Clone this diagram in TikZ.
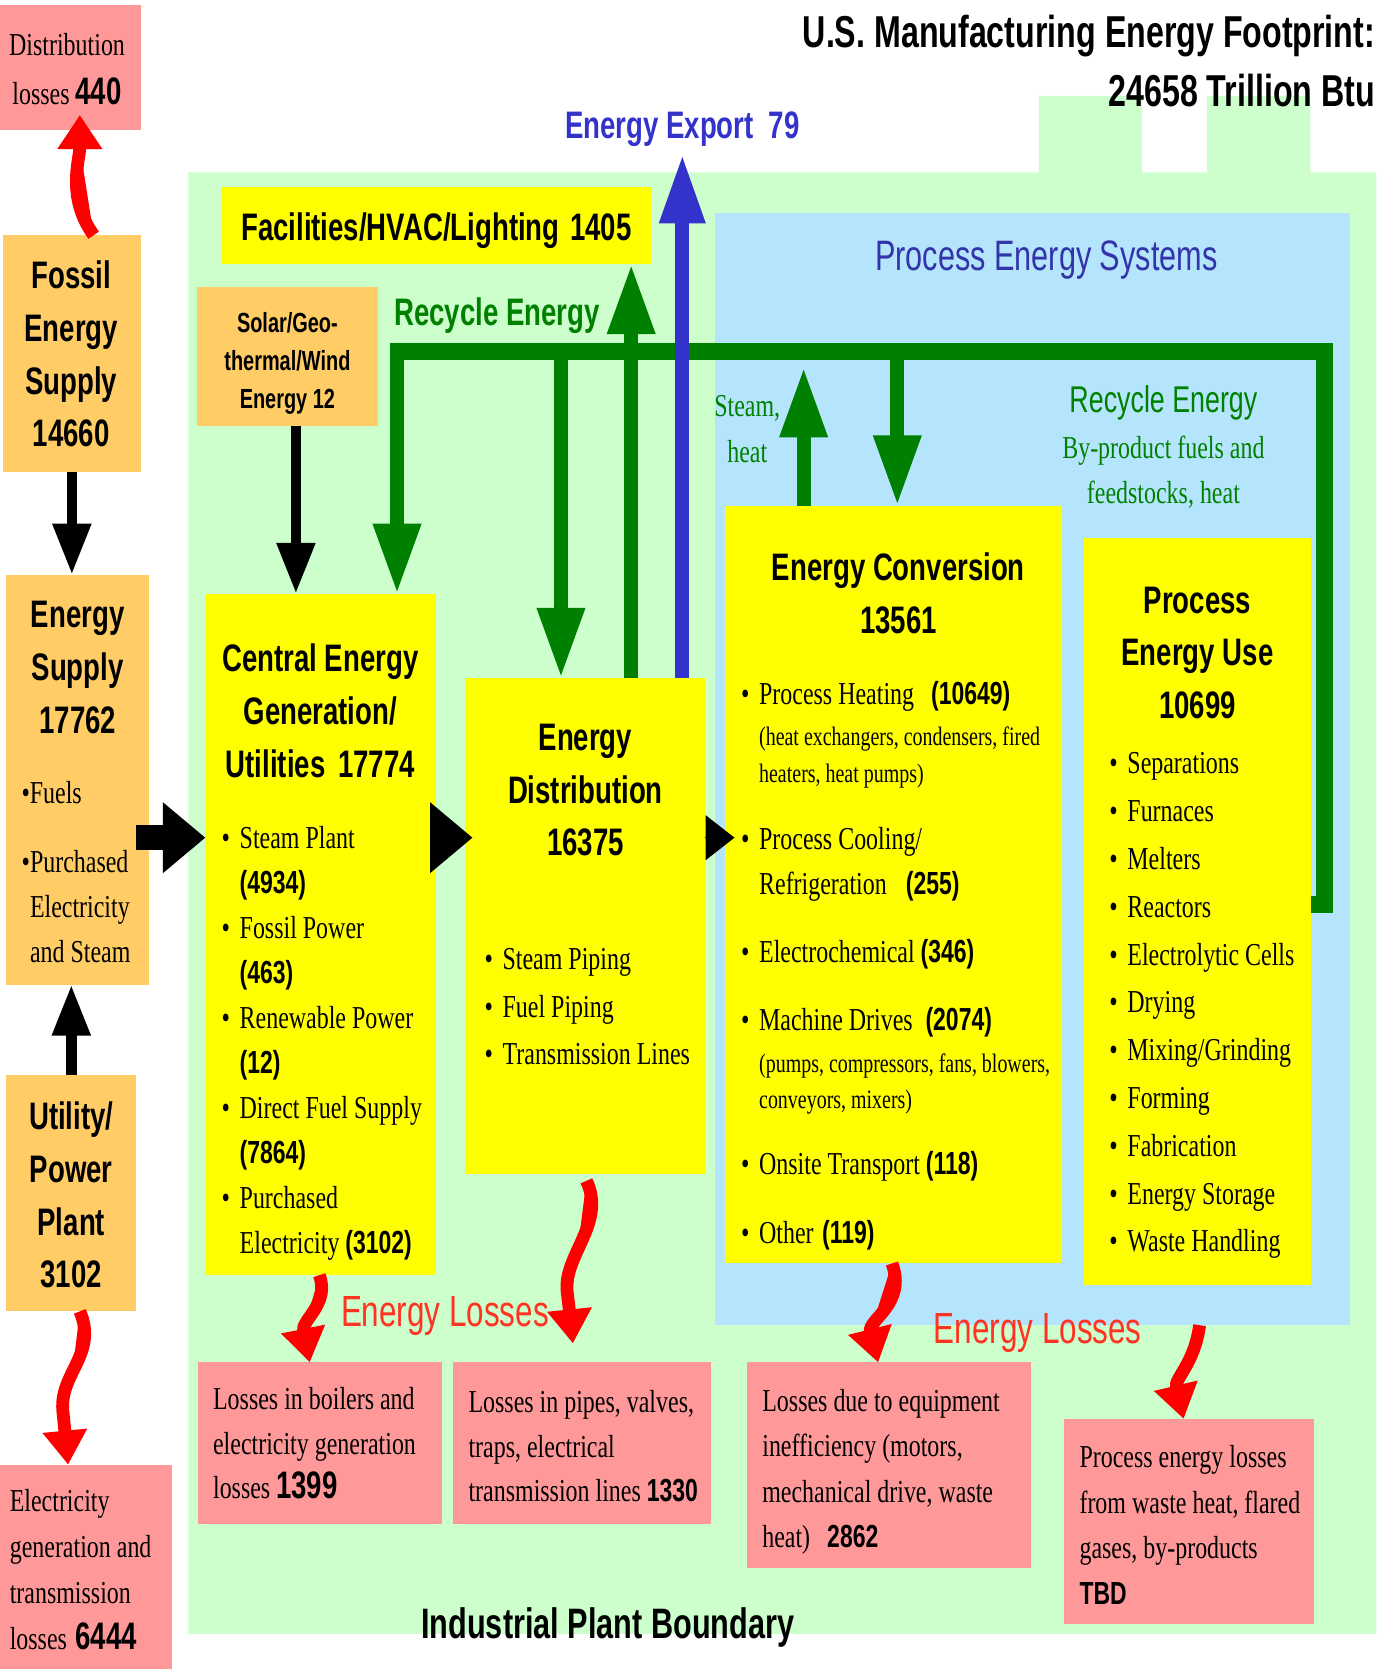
\documentclass[tikz,border=0pt]{standalone}
\usepackage{fontspec}
\setmainfont[FakeStretch=0.75]{Liberation Serif}
\newfontfamily\narrowsans[FakeStretch=0.72]{Liberation Sans}
\usetikzlibrary{arrows.meta}
\definecolor{plantgreen}{RGB}{204,255,204}
\definecolor{procblue}{RGB}{181,229,252}
\definecolor{boxyellow}{RGB}{255,255,0}
\definecolor{supplyorange}{RGB}{255,204,102}
\definecolor{losspink}{RGB}{255,153,153}
\definecolor{mgreen}{RGB}{0,128,0}
\definecolor{mblue}{RGB}{51,51,204}
\definecolor{mpurple}{RGB}{51,51,170}
\definecolor{mred}{RGB}{255,0,0}
\definecolor{lossred}{RGB}{255,51,34}
\newcommand{\headfont}{\narrowsans\bfseries\fontsize{36}{49.5}\selectfont}
\newcommand{\itemfont}{\fontsize{30}{42.3}\selectfont}
\newcommand{\smallitemfont}{\fontsize{25}{34}\selectfont}
\newcommand{\val}[1]{{\narrowsans\bfseries #1}}
\newcommand{\bigval}[1]{{\narrowsans\bfseries\fontsize{36}{42}\selectfont #1}}
\newcommand{\blt}{\llap{\textbullet\hspace{9pt}}}
\tikzset{
  box/.style = {inner sep = 0, outer sep = 0, anchor = north west},
  lines/.style = {inner sep = 0, align = left, anchor = north west, yshift = -9pt, execute at begin node = \strut},
  heading/.style = {lines, align = center, anchor = north, font = \headfont},
  label/.style = {inner sep = 0, anchor = base},
  blkarrow/.style = {line width = 10pt, -{Triangle[width = 34pt, length = 48pt]}},
  fatarrow/.style = {line width = 24pt, -{Triangle[width = 64pt, length = 40pt]}},
  grnline/.style = {draw = mgreen, line width = 16pt},
  grnarrow/.style = {draw = mgreen, fill = mgreen, line width = 13pt, -{Triangle[width = 42pt, length = 66pt]}},
  bluarrow/.style = {draw = mblue, fill = mblue, line width = 13pt, -{Triangle[width = 40pt, length = 65pt]}},
  lossarrow/.style = {draw = mred, fill = mred, line width = 12pt, -{Triangle[width = 40pt, length = 32pt]}}
}

\begin{document}
\begin{tikzpicture}[x = 1pt, y = -1pt]
  \useasboundingbox (0, 0) rectangle (1293, 1568);

  % plant boundary and process systems
  \fill[plantgreen] (177, 162) -- (976, 162) -- (976, 90) -- (1073, 90) -- (1073, 162)
    -- (1134, 162) -- (1134, 90) -- (1231, 90) -- (1231, 162) -- (1293, 162)
    -- (1293, 1535) -- (177, 1535) -- cycle;
  \node[box, fill = procblue, minimum width = 596, minimum height = 1045] (pes) at (672, 200) {};

  % boxes
  \node[box, fill = losspink, minimum width = 132, minimum height = 117] (distloss) at (0, 5) {};
  \node[box, fill = supplyorange, minimum width = 129, minimum height = 222] (fossil) at (3, 221) {};
  \node[box, fill = supplyorange, minimum width = 134, minimum height = 385] (supply) at (6, 540) {};
  \node[box, fill = supplyorange, minimum width = 122, minimum height = 222] (utility) at (6, 1010) {};
  \node[box, fill = losspink, minimum width = 162, minimum height = 192] (elecloss) at (0, 1376) {};
  \node[box, fill = boxyellow, minimum width = 404, minimum height = 72] (fac) at (208, 176) {};
  \node[box, fill = supplyorange, minimum width = 170, minimum height = 130] (solar) at (185, 270) {};
  \node[box, fill = boxyellow, minimum width = 217, minimum height = 640] (central) at (193, 558) {};
  \node[box, fill = boxyellow, minimum width = 225, minimum height = 466] (dist) at (437, 637) {};
  \node[box, fill = boxyellow, minimum width = 317, minimum height = 712] (conv) at (681, 475) {};
  \node[box, fill = boxyellow, minimum width = 214, minimum height = 702] (use) at (1018, 505) {};
  \node[box, fill = losspink, minimum width = 229, minimum height = 152] (boilloss) at (186, 1280) {};
  \node[box, fill = losspink, minimum width = 242, minimum height = 152] (pipeloss) at (426, 1280) {};
  \node[box, fill = losspink, minimum width = 267, minimum height = 193] (equiploss) at (702, 1280) {};
  \node[box, fill = losspink, minimum width = 234, minimum height = 193] (procloss) at (1000, 1333) {};

  % titles
  \node[label, anchor = base east, font = \narrowsans\bfseries\fontsize{42}{48}\selectfont] (title) at (1292, 45) {U.S. Manufacturing Energy Footprint:};
  \node[label, anchor = base east, font = \narrowsans\bfseries\fontsize{42}{48}\selectfont] (total) at (1292, 100) {24658 Trillion Btu};
  \node[label, font = \narrowsans\bfseries\fontsize{36}{42}\selectfont, text = mblue] (export) at (641, 130) {Energy Export\hspace{14pt}79};
  \node[label, font = \narrowsans\fontsize{40}{46}\selectfont, text = mpurple] (pestxt) at (983, 254) {Process Energy Systems};
  \node[label, font = \narrowsans\bfseries\fontsize{40}{46}\selectfont] (boundary) at (571, 1539) {Industrial Plant Boundary};
  \node[label, font = \narrowsans\bfseries\fontsize{36}{42}\selectfont, text = mgreen] (recycle) at (467, 306) {Recycle Energy};
  \node[label, font = \narrowsans\fontsize{35}{42}\selectfont, text = mgreen] (recycle2) at (1093, 388) {Recycle Energy};
  \node[lines, align = center, anchor = north, font = \fontsize{30}{43}\selectfont, text = mgreen] (byproduct) at (1093, 400) {By-product fuels and\\feedstocks, heat};
  \node[lines, align = center, anchor = north, font = \fontsize{30}{43}\selectfont, text = mgreen] (steam) at (702, 362) {Steam,\\heat};
  \node[label, font = \narrowsans\fontsize{41}{46}\selectfont, text = lossred] (losses1) at (418, 1246) {Energy Losses};
  \node[label, font = \narrowsans\fontsize{41}{46}\selectfont, text = lossred] (losses2) at (975, 1262) {Energy Losses};

  % supply side
  \node[heading] (fossiltxt) at (67, 236) {Fossil\\Energy\\Supply\\14660};
  \node[heading] (supplytxt) at (73, 556) {Energy\\Supply\\17762};
  \node[label, anchor = base west, font = \itemfont] (fuels) at (20, 755) {\textbullet Fuels};
  \node[lines, font = \itemfont] (purchased) at (28, 790) {\llap{\textbullet}Purchased\\Electricity\\and Steam};
  \node[heading] (utilitytxt) at (67, 1026) {Utility/\\Power\\Plant\\3102};
  \node[label, font = \headfont] (factxt) at (410, 226) {Facilities/HVAC/Lighting\hspace{10pt}1405};
  \node[lines, align = center, anchor = north, font = \narrowsans\bfseries\fontsize{26}{36}\selectfont] (solartxt) at (270, 284) {Solar/Geo-\\thermal/Wind\\Energy 12};

  % central generation and distribution
  \node[heading] (centraltxt) at (301, 596) {Central Energy\\Generation/\\Utilities\hspace{12pt}17774};
  \node[lines, font = \itemfont] (centralitems) at (225, 767) {\blt Steam Plant\\\val{(4934)}\\\blt Fossil Power\\\val{(463)}\\\blt Renewable Power\\\val{(12)}\\\blt Direct Fuel Supply\\\val{(7864)}\\\blt Purchased\\Electricity \val{(3102)}};
  \node[heading] (disttxt) at (550, 671) {Energy\\Distribution\\16375};
  \node[lines, font = \fontsize{30}{44.5}\selectfont] (distitems) at (472, 882) {\blt Steam Piping\\\blt Fuel Piping\\\blt Transmission Lines};

  % conversion
  \node[heading] (convtxt) at (844, 510) {Energy Conversion\\13561};
  \node[label, anchor = base west, font = \itemfont] (heating) at (713, 662) {\blt Process Heating\hspace{16pt}\val{(10649)}};
  \node[lines, font = \smallitemfont] (heatingsub) at (713, 674) {(heat exchangers, condensers, fired\\heaters, heat pumps)};
  \node[lines, font = \itemfont] (cooling) at (713, 768) {\blt Process Cooling/\\Refrigeration\hspace{18pt}\val{(255)}};
  \node[label, anchor = base west, font = \itemfont] (electrochem) at (713, 904) {\blt Electrochemical \val{(346)}};
  \node[label, anchor = base west, font = \itemfont] (drives) at (713, 968) {\blt Machine Drives\hspace{12pt}\val{(2074)}};
  \node[lines, font = \smallitemfont] (drivessub) at (713, 981) {(pumps, compressors, fans, blowers,\\conveyors, mixers)};
  \node[label, anchor = base west, font = \itemfont] (transport) at (713, 1103) {\blt Onsite Transport \val{(118)}};
  \node[label, anchor = base west, font = \itemfont] (other) at (713, 1168) {\blt Other\hspace{8pt}\val{(119)}};

  % process use
  \node[heading] (usetxt) at (1125, 542) {Process\\Energy Use\\10699};
  \node[lines, font = \fontsize{30}{44.9}\selectfont] (useitems) at (1059, 698) {\blt Separations\\\blt Furnaces\\\blt Melters\\\blt Reactors\\\blt Electrolytic Cells\\\blt Drying\\\blt Mixing/Grinding\\\blt Forming\\\blt Fabrication\\\blt Energy Storage\\\blt Waste Handling};

  % losses
  \node[lines, align = center, anchor = north, font = \fontsize{30}{46}\selectfont] (distlosstxt) at (63, 22) {Distribution\\losses \bigval{440}};
  \node[lines, font = \fontsize{30}{43.3}\selectfont] (eleclosstxt) at (9, 1390) {Electricity\\generation and\\transmission\\losses\hspace{8pt}\bigval{6444}};
  \node[lines, font = \fontsize{30}{42}\selectfont] (boillosstxt) at (200, 1294) {Losses in boilers and\\electricity generation\\losses \bigval{1399}};
  \node[lines, font = \fontsize{30}{42}\selectfont] (pipelosstxt) at (440, 1297) {Losses in pipes, valves,\\traps, electrical\\transmission lines \val{1330}};
  \node[lines, font = \fontsize{30}{42.7}\selectfont] (equiplosstxt) at (716, 1296) {Losses due to equipment\\inefficiency (motors,\\mechanical drive, waste\\heat)\hspace{16pt}\val{2862}};
  \node[lines, font = \fontsize{30}{42.7}\selectfont] (proclosstxt) at (1014, 1349) {Process energy losses\\from waste heat, flared\\gases, by-products\\\val{TBD}};

  % recycle loop
  \draw[grnline] (use.east |- 0, 850) -| (1244, 330) -- (366, 330);
  \coordinate (steamtip) at (755, 345);
  \draw[grnarrow] (373, 330) -- (373, 0 |- central.north);
  \draw[grnarrow] (527, 330) -- (527, 0 |- dist.north);
  \draw[grnarrow] (593, 0 |- dist.north) -- (593, 0 |- fac.south);
  \draw[grnarrow] (steamtip |- conv.north) -- (steamtip);
  \draw[grnarrow] (843, 330) -- (843, 0 |- conv.north);
  \draw[bluarrow] (export.south |- dist.north) -- ([yshift = -7pt]export.south);

  % energy flow
  \coordinate (flow) at (0, 787);
  \draw[blkarrow] (fossil.south) -- (fossil.south |- supply.north);
  \draw[blkarrow] (utility.north) -- (utility.north |- supply.south);
  \draw[blkarrow] (278, 0 |- solar.south) -- (278, 0 |- central.north);
  \draw[fatarrow, shorten <= -12pt] (supply.east |- flow) -- (central.west |- flow);
  \draw[fatarrow, shorten <= -15pt, shorten >= -7pt] (central.east |- flow) -- (dist.west |- flow);
  \draw[line width = 1pt, -{Triangle[width = 42pt, length = 27pt]}] (dist.east |- flow) -- (690, 0 |- flow);

  % losses
  \draw[lossarrow, shorten >= -14pt] (88, 0 |- fossil.north) .. controls (62, 185) and (75, 150) .. (75, 0 |- distloss.south);
  \draw[lossarrow] (75, 0 |- utility.south) .. controls (92, 1272) and (56, 1290) .. (59, 1325) .. controls (61, 1345) .. (64, 0 |- elecloss.north);
  \draw[lossarrow] (300, 0 |- central.south) .. controls (310, 1225) and (283, 1240) .. (291, 0 |- boilloss.north);
  \draw[lossarrow, shorten <= 7pt, shorten >= 18pt] (548, 0 |- dist.south) .. controls (570, 1150) and (528, 1180) .. (533, 1215) .. controls (536, 1240) .. (540, 0 |- pipeloss.north);
  \draw[lossarrow] (838, 0 |- conv.south) .. controls (852, 1225) and (815, 1240) .. (825, 0 |- equiploss.north);
  \draw[lossarrow] (1127, 0 |- pes.south) .. controls (1122, 1282) and (1103, 1295) .. (1112, 0 |- procloss.north);
\end{tikzpicture}
\end{document}
